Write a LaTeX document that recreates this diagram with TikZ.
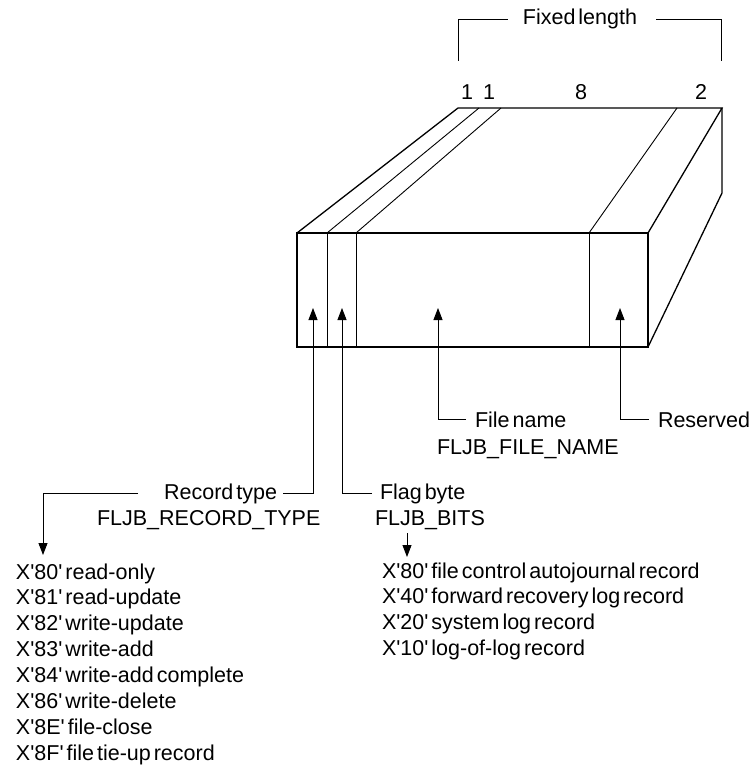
\documentclass[tikz,border=0pt]{standalone}
\usepackage{fontspec}
\setmainfont{Liberation Sans}[Ligatures=TeXOff, WordSpace=0.5]
\usetikzlibrary{arrows.meta}
\begin{document}
\begin{tikzpicture}[x=1pt,y=-1pt,
  every node/.style={inner sep=0pt, outer sep=0pt, font=\fontsize{21.5}{26}\selectfont},
  outerln/.style={line width=1.3pt, line join=miter},
  innerln/.style={line width=0.9pt},
  conn/.style={line width=0.9pt},
  arr/.style={conn, -{Triangle[length=12pt,width=9pt]}}]
\useasboundingbox (0,0) rectangle (752,765);

% ---- record box ----
\coordinate (fa) at (297,233);
\coordinate (fb) at (648,233);
\coordinate (fc) at (648,347);
\coordinate (fd) at (297,347);
\coordinate (ba) at (458,108);
\coordinate (bb) at (722,108);
\coordinate (bc) at (722,193);
\draw[innerln] (327,233) -- (327,347) (356,233) -- (356,347) (589,233) -- (589,347);
\draw[innerln] (327,233) -- (479,108) (356,233) -- (501,108) (589,233) -- (677,108);
\draw[outerln] (fa) rectangle (fc);
\draw[outerln] (fa) -- (ba) -- (bb) -- (fb);
\draw[outerln] (bb) -- (bc) -- (fc);

% ---- header ----
\node (fixed) at (580,25) [anchor=base] {Fixed length};
\draw[conn] (458,61) |- ([xshift=-15pt]fixed.west);
\draw[conn] (721,61) |- ([xshift=19pt]fixed.east);
\node (n1) at (467,100) [anchor=base] {1};
\node (n2) at (489,100) [anchor=base] {1};
\node (n3) at (581,100) [anchor=base] {8};
\node (n4) at (701,100) [anchor=base] {2};

% ---- arrow tips inside front face ----
\coordinate (tiprt) at (313,308);
\coordinate (tipfb) at (342,308);
\coordinate (tipfn) at (438,308);
\coordinate (tipres) at (620,308);

% ---- labels ----
\node (rt) at (277,499) [anchor=base east] {Record type};
\node (rt2) at (97,525) [anchor=base west] {FLJB\_RECORD\_TYPE};
\node (fbl) at (380,499) [anchor=base west] {Flag byte};
\node (fb2) at (375,525) [anchor=base west] {FLJB\_BITS};
\node (fn) at (475,427) [anchor=base west] {File name};
\node (fn2) at (437,454) [anchor=base west] {FLJB\_FILE\_NAME};
\node (res) at (658,427) [anchor=base west] {Reserved};

\draw[arr] ([xshift=6pt]rt.east) -| (tiprt);
\draw[arr] ([xshift=-8pt]fbl.west) -| (tipfb);
\draw[arr] ([xshift=-9pt]fn.west) -| (tipfn);
\draw[arr] ([xshift=-9pt]res.west) -| (tipres);

\coordinate (rtarrow) at (43,555);
\draw[arr] ([xshift=-26pt]rt.west) -| (rtarrow);
\coordinate (fbstart) at (407,533);
\coordinate (fbarrow) at (407,557);
\draw[arr] (fbstart) -- (fbarrow);

% ---- value lists ----
\foreach \t [count=\i from 0] in {X'80' read-only, X'81' read-update, X'82' write-update, X'83' write-add, X'84' write-add complete, X'86' write-delete, X'8E' file-close, X'8F' file tie-up record}
  \node (lt\i) at (16,{579+25.9*\i}) [anchor=base west] {\t};
\foreach \t [count=\i from 0] in {X'80' file control autojournal record, X'40' forward recovery log record, X'20' system log record, X'10' log-of-log record}
  \node (rtl\i) at (382,{578+25.9*\i}) [anchor=base west] {\t};
\end{tikzpicture}
\end{document}
